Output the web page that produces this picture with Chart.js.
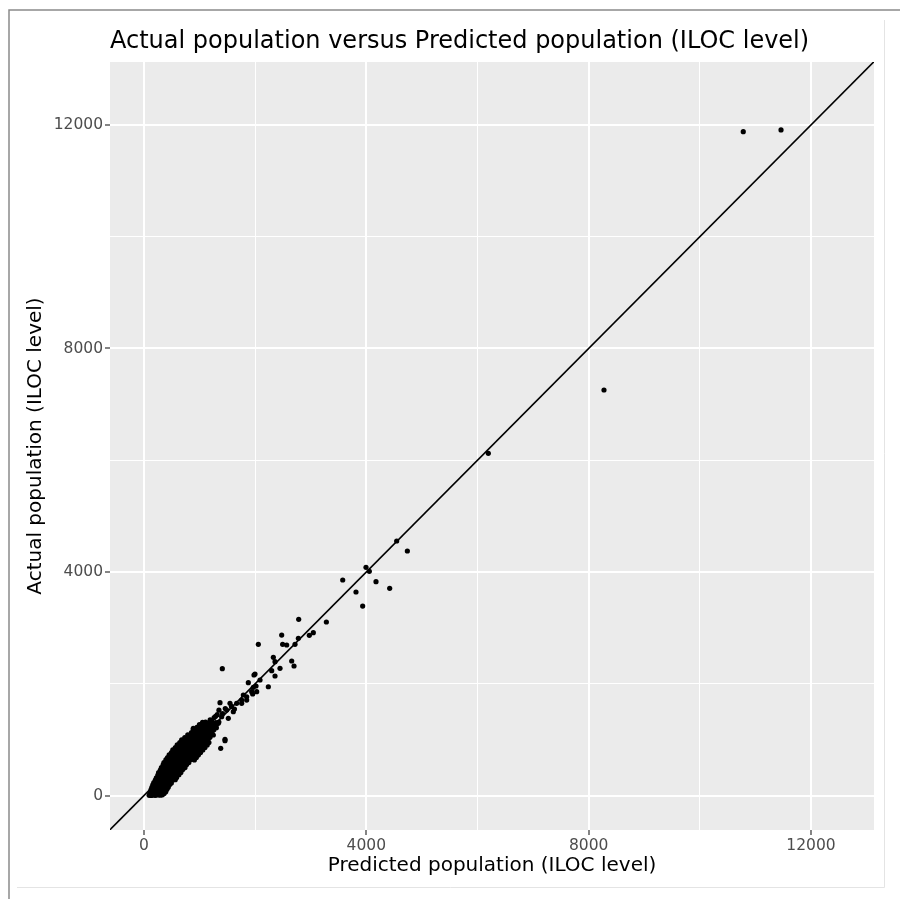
<!DOCTYPE html>
<html>
<head>
<meta charset="utf-8">
<title>Actual vs Predicted population</title>
<script src="https://cdn.jsdelivr.net/npm/chart.js@4.4.1/dist/chart.umd.min.js"></script>
<style>
  html, body { margin: 0; padding: 0; background: #fff; }
  canvas { display: block; }
</style>
</head>
<body>
<canvas id="chart" width="900" height="899"></canvas>
<script>
// dense band of small ILOCs, one row of the band per line
const bandPredicted = [
  92, 128, 171, 207, 248, 293, 331,
  104, 147, 188, 226, 273, 318, 362,
  118, 158, 203, 249, 296, 347, 391,
  127, 173, 214, 262, 313, 361, 412,
  141, 188, 232, 283, 327, 384, 436,
  158, 207, 251, 304, 352, 407, 463,
  176, 228, 279, 322, 377, 438, 492,
  203, 247, 302, 354, 401, 463, 517, 562,
  222, 278, 327, 383, 432, 488, 548, 587,
  248, 297, 358, 406, 468, 517, 573, 628,
  262, 323, 377, 438, 487, 553, 602, 663,
  293, 342, 408, 461, 523, 577, 643, 697,
  312, 378, 432, 497, 552, 613, 672, 738,
  343, 397, 463, 522, 588, 642, 713, 768,
  358, 428, 487, 558, 612, 683, 742, 807,
  393, 452, 523, 582, 653, 712, 783, 847, 906,
  423, 482, 553, 612, 683, 747, 818, 877, 942,
  452, 523, 582, 653, 717, 788, 847, 918, 977,
  493, 552, 623, 687, 758, 817, 893, 952, 1017,
  518, 593, 657, 728, 792, 863, 922, 993, 1058,
  563, 627, 703, 762, 838, 897, 968, 1032, 1097,
  597, 673, 737, 808, 872, 943, 1007, 1078, 1137,
  643, 707, 783, 847, 918, 977, 1053, 1117, 1168,
  677, 753, 817, 893, 952, 1023, 1087, 1153,
  733, 797, 873, 932, 1003, 1062, 1133, 1187,
  787, 853, 912, 983, 1042, 1113, 1167, 1228,
  853, 907, 973, 1027, 1098, 1157, 1222,
  897, 963, 1017, 1083, 1137, 1203, 1257,
  953, 1007, 1073, 1127, 1193, 1247, 1302,
  997, 1063, 1117, 1183, 1237, 1297,
  1053, 1107, 1173, 1227, 1293, 1347
];
const bandActual = [
  4, 2, 7, 3, 9, 5, 12,
  33, 38, 29, 35, 31, 40, 36,
  68, 72, 64, 70, 66, 75, 69,
  107, 103, 111, 106, 109, 104, 113,
  148, 152, 145, 150, 147, 155, 149,
  192, 188, 196, 190, 194, 187, 198,
  231, 235, 228, 233, 230, 237, 226,
  276, 272, 279, 274, 281, 270, 277, 283,
  318, 322, 315, 320, 317, 325, 314, 321,
  366, 362, 369, 364, 371, 360, 367, 373,
  409, 413, 406, 411, 404, 415, 408, 412,
  457, 453, 460, 455, 462, 450, 458, 464,
  498, 502, 495, 500, 497, 505, 493, 501,
  547, 543, 550, 545, 552, 540, 548, 555,
  588, 592, 585, 590, 587, 595, 583, 591,
  637, 633, 640, 635, 642, 630, 638, 645, 636,
  678, 682, 675, 680, 677, 685, 673, 681, 679,
  727, 723, 730, 725, 732, 720, 728, 735, 726,
  768, 772, 765, 770, 767, 775, 763, 771, 769,
  816, 812, 819, 814, 821, 810, 817, 824, 815,
  858, 862, 855, 860, 857, 865, 853, 861, 859,
  907, 903, 910, 905, 912, 900, 908, 915, 906,
  948, 952, 945, 950, 947, 955, 943, 951, 949,
  997, 993, 1000, 995, 1002, 990, 998, 1005,
  1038, 1042, 1035, 1040, 1037, 1045, 1033, 1041,
  1087, 1083, 1090, 1085, 1092, 1080, 1088, 1095,
  1128, 1132, 1125, 1130, 1127, 1135, 1123,
  1177, 1173, 1180, 1175, 1182, 1170, 1178,
  1218, 1222, 1215, 1220, 1217, 1225, 1213,
  1267, 1263, 1270, 1265, 1272, 1260,
  1308, 1312, 1305, 1310, 1307, 1315
];

// individual ILOCs above the band
const spreadPredicted = [
  408, 725, 977, 827, 887, 887, 947, 1007, 1097, 1127, 1187, 1217, 1247, 1337, 1380, 1457, 1457,
  1190, 1262, 1287, 1318, 1348, 1397, 1412, 1462, 1487, 1517, 1547, 1573, 1607, 1627, 1367, 1409,
  1667, 1757, 1757, 1787, 1847, 1847, 1877, 1937, 1955, 1967, 1979, 1997, 2015, 2027, 2057, 2087,
  2237, 2297, 2327, 2357, 2357, 2447, 2477, 2494, 2567, 2657, 2699, 2717, 2777, 2783, 2974, 3046, 3281,
  3575, 3814, 3934, 3994, 4054, 4174, 4420, 4546, 4738, 6195, 8276, 10782, 11461
];
const spreadActual = [
  648, 886, 743, 1024, 1185, 1203, 1083, 1142, 1041, 1262, 1172, 1321, 1083, 1292, 845, 981, 1006,
  1352, 1395, 1418, 1446, 1527, 1410, 1468, 1556, 1530, 1382, 1650, 1594, 1500, 1548, 1661, 2270,
  1650, 1650, 1709, 1799, 1709, 1768, 2019, 1858, 1817, 1936, 2157, 2174, 1960, 1858, 2706, 2067,
  1947, 2234, 2473, 2139, 2395, 2276, 2872, 2706, 2694, 2407, 2318, 2706, 2813, 3153, 2867, 2914, 3105,
  3857, 3642, 3391, 4084, 4012, 3827, 3708, 4555, 4376, 6124, 7257, 11880, 11911
];

// y = x reference line, end values past the axis limits
const refLine = [-700, 13300];

const tickValues = [0, 2000, 4000, 6000, 8000, 10000, 12000];
const labelledTicks = [0, 4000, 8000, 12000];

const points = bandPredicted.map((p, i) => ({ x: p, y: bandActual[i] }))
  .concat(spreadPredicted.map((p, i) => ({ x: p, y: spreadActual[i] })));

const font = 'DejaVu Sans';

// grey panel, figure frame and the plot title
const panelBackground = {
  id: 'panelBackground',
  beforeDraw(chart) {
    const { ctx, chartArea: a } = chart;
    ctx.save();
    ctx.fillStyle = '#fff';
    ctx.fillRect(0, 0, chart.width, chart.height);
    ctx.strokeStyle = '#8a8a8a';
    ctx.lineWidth = 1.5;
    ctx.beginPath();
    ctx.moveTo(9, 899);
    ctx.lineTo(9, 10);
    ctx.lineTo(900, 10);
    ctx.stroke();
    ctx.strokeStyle = '#e4e4e4';
    ctx.lineWidth = 1;
    ctx.beginPath();
    ctx.moveTo(17, 887.5);
    ctx.lineTo(884.5, 887.5);
    ctx.lineTo(884.5, 20);
    ctx.stroke();
    ctx.fillStyle = '#ebebeb';
    ctx.fillRect(a.left, a.top, a.right - a.left, a.bottom - a.top);
    ctx.restore();
  },
  afterDraw(chart) {
    const { ctx, chartArea: a } = chart;
    ctx.save();
    ctx.fillStyle = '#000';
    ctx.font = '24px "' + font + '"';
    ctx.textAlign = 'left';
    ctx.textBaseline = 'alphabetic';
    ctx.fillText('Actual population versus Predicted population (ILOC level)', a.left, 47.5);
    ctx.restore();
  }
};

const isMajor = v => labelledTicks.includes(v);

function axisOptions(min, max, titleText, titlePadding) {
  return {
    type: 'linear',
    min: min,
    max: max,
    afterBuildTicks: axis => { axis.ticks = tickValues.map(v => ({ value: v })); },
    border: { display: false },
    grid: {
      color: '#fff',
      lineWidth: c => (c.tick && isMajor(c.tick.value)) ? 2 : 1,
      tickColor: c => (c.tick && isMajor(c.tick.value)) ? '#333' : 'rgba(0,0,0,0)',
      tickLength: 5,
      tickWidth: 1.2
    },
    ticks: {
      autoSkip: false,
      maxRotation: 0,
      padding: 2,
      color: '#4d4d4d',
      font: { family: font, size: 15.5 },
      callback: v => isMajor(v) ? String(v) : ''
    },
    title: {
      display: true,
      text: titleText,
      color: '#000',
      font: { family: font, size: 20 },
      padding: titlePadding
    }
  };
}

const xAxis = axisOptions(-612, 13134, 'Predicted population (ILOC level)', { top: 0, bottom: 21 });
xAxis.position = 'bottom';
xAxis.afterFit = axis => { axis.height = 69; };

const yAxis = axisOptions(-617, 13127, 'Actual population (ILOC level)', { top: 24, bottom: 0 });
yAxis.position = 'left';
yAxis.afterFit = axis => { axis.width = 110; };

new Chart(document.getElementById('chart'), {
  type: 'scatter',
  data: {
    datasets: [
      {
        type: 'line',
        data: refLine.map(v => ({ x: v, y: v })),
        borderColor: '#000',
        borderWidth: 1.6,
        pointRadius: 0,
        fill: false
      },
      {
        data: points,
        backgroundColor: '#000',
        borderWidth: 0,
        pointRadius: 2.6,
        pointHoverRadius: 2.6
      }
    ]
  },
  options: {
    responsive: false,
    animation: false,
    devicePixelRatio: 1,
    layout: { padding: { top: 62, right: 26, bottom: 0, left: 0 } },
    plugins: { legend: { display: false }, tooltip: { enabled: false } },
    scales: { x: xAxis, y: yAxis }
  },
  plugins: [panelBackground]
});
</script>
</body>
</html>
